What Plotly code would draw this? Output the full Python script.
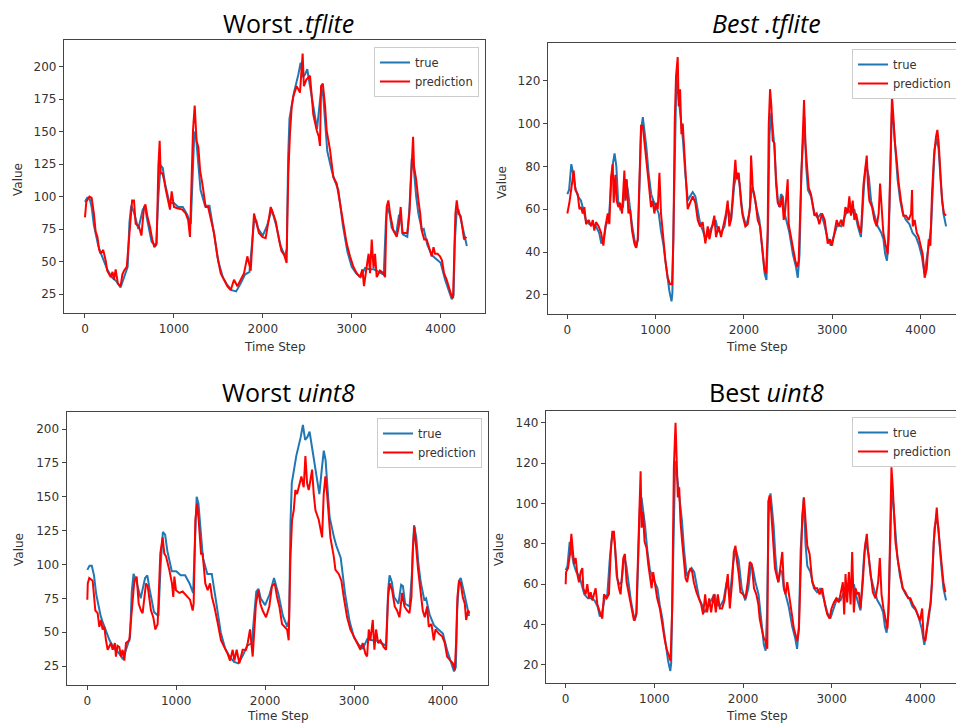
import plotly.graph_objects as go

# ---------------- data ----------------
# "Worst" model test set: true values (time step, value)
worst_true_t = [0, 25, 50, 75, 100, 125, 150, 175, 200, 250, 300, 350, 400, 450, 480, 500, 520, 550, 600, 650,
                675, 700, 750, 800, 825, 850, 875, 900, 950, 1000, 1050, 1100, 1150, 1190, 1210, 1230, 1250, 1275,
                1300, 1350, 1400, 1450, 1500, 1550, 1600, 1650, 1700, 1750, 1800, 1850, 1875, 1900, 1925, 1950,
                2000, 2050, 2100, 2150, 2200, 2250, 2270, 2285, 2300, 2350, 2400, 2425, 2450, 2475, 2500, 2525,
                2575, 2610, 2640, 2660, 2680, 2700, 2725, 2775, 2800, 2850, 2875, 2900, 2950, 3000, 3050, 3100,
                3150, 3200, 3250, 3300, 3360, 3385, 3400, 3425, 3450, 3500, 3530, 3550, 3575, 3625, 3650, 3675,
                3700, 3725, 3750, 3790, 3810, 3850, 3900, 3950, 4000, 4050, 4100, 4125, 4145, 4160, 4180, 4200,
                4225, 4250, 4275, 4295]
worst_true = [96, 99, 99, 92, 78, 70, 62, 57, 53, 44, 38, 35, 30, 40, 46, 80, 93, 88, 75, 90,
              92, 82, 65, 62, 100, 124, 122, 110, 95, 95, 92, 92, 86, 79, 120, 150, 145, 125,
              105, 93, 93, 72, 50, 38, 32, 28, 27, 33, 40, 42, 60, 80, 82, 75,
              70, 78, 90, 78, 62, 54, 60, 130, 160, 180, 194, 203, 192, 194, 198, 188,
              167, 152, 172, 184, 177, 160, 135, 120, 114, 105, 92, 78, 58, 46, 41, 38,
              45, 44, 44, 42, 40, 82, 92, 87, 76, 71, 85, 84, 71, 69, 92, 129,
              120, 100, 87, 74, 75, 63, 55, 52, 49, 36, 27, 21, 24, 66, 88, 90,
              83, 75, 66, 62]

# Worst .tflite prediction
tfl_worst_t = [0, 15, 50, 75, 100, 120, 140, 160, 176, 205, 232, 250, 289, 310, 326, 345, 370, 401, 420, 439,
               470, 495, 514, 530, 551, 570, 607, 635, 664, 680, 701, 730, 757, 780, 806, 825, 840, 851, 870,
               889, 910, 926, 956, 975, 1001, 1039, 1095, 1132, 1160, 1181, 1200, 1215, 1234, 1255, 1275, 1295,
               1320, 1357, 1385, 1414, 1451, 1489, 1526, 1564, 1601, 1639, 1676, 1714, 1751, 1789, 1826, 1864,
               1901, 1930, 1957, 1995, 2032, 2059, 2089, 2110, 2145, 2182, 2210, 2240, 2268, 2275, 2287, 2306,
               2325, 2343, 2381, 2418, 2448, 2462, 2490, 2531, 2568, 2606, 2630, 2643, 2655, 2675, 2700, 2718,
               2756, 2793, 2831, 2868, 2906, 2943, 2981, 3018, 3056, 3093, 3120, 3138, 3168, 3190, 3206, 3225,
               3245, 3262, 3281, 3318, 3356, 3375, 3393, 3412, 3431, 3468, 3506, 3530, 3551, 3570, 3600, 3625,
               3649, 3675, 3690, 3701, 3725, 3750, 3770, 3787, 3815, 3843, 3870, 3900, 3920, 3937, 3965, 3993,
               4015, 4038, 4068, 4098, 4125, 4140, 4151, 4166, 4181, 4200, 4226, 4250, 4263, 4290]
tfl_worst = [84, 96, 100, 99, 87, 73, 69, 59, 56, 59, 51, 43, 38, 42, 36, 44, 33, 31, 40, 43,
             46, 67, 90, 97, 97, 79, 77, 70, 92, 94, 85, 77, 67, 61, 64, 123, 143, 118, 118,
             113, 105, 100, 90, 104, 92, 91, 90, 87, 82, 69, 120, 151, 170, 143, 138, 120,
             110, 92, 92, 82, 72, 54, 41, 36, 31, 28, 36, 31, 36, 41, 54, 43,
             87, 79, 72, 69, 68, 79, 92, 88, 81, 67, 58, 55, 49, 80, 118, 149,
             169, 177, 185, 180, 210, 185, 190, 193, 163, 151, 146, 139, 185, 187, 170, 151,
             136, 115, 110, 95, 79, 64, 54, 46, 41, 38, 44, 31, 46, 56, 41, 67,
             45, 56, 38, 43, 41, 38, 92, 97, 87, 74, 69, 77, 92, 72, 72, 72,
             87, 126, 146, 123, 113, 97, 87, 74, 67, 67, 61, 54, 61, 56, 56, 54,
             51, 41, 36, 28, 23, 22, 54, 87, 97, 87, 85, 74, 67, 69]

# Worst uint8 prediction
u8_worst_t = [0, 5, 22, 60, 90, 116, 135, 154, 172, 191, 210, 229, 266, 285, 310, 322, 340, 360, 379, 397,
              416, 435, 472, 510, 529, 555, 578, 604, 622, 660, 679, 716, 742, 765, 791, 821, 847, 866, 885,
              922, 952, 967, 979, 997, 1035, 1072, 1110, 1155, 1185, 1196, 1215, 1234, 1252, 1279, 1297, 1327,
              1354, 1380, 1402, 1429, 1466, 1504, 1541, 1579, 1605, 1635, 1654, 1680, 1710, 1747, 1785, 1804,
              1830, 1860, 1897, 1924, 1946, 1972, 2010, 2047, 2077, 2108, 2134, 2160, 2190, 2220, 2247, 2265,
              2284, 2303, 2322, 2340, 2359, 2378, 2408, 2434, 2453, 2472, 2490, 2509, 2528, 2547, 2566, 2603,
              2641, 2659, 2678, 2697, 2716, 2734, 2772, 2791, 2828, 2858, 2884, 2922, 2959, 2997, 3034, 3072,
              3098, 3128, 3147, 3166, 3184, 3211, 3229, 3248, 3271, 3297, 3334, 3361, 3383, 3402, 3428, 3458,
              3484, 3511, 3541, 3567, 3597, 3623, 3646, 3661, 3679, 3698, 3721, 3747, 3773, 3796, 3822, 3841,
              3871, 3897, 3916, 3953, 3991, 4021, 4047, 4084, 4111, 4133, 4148, 4163, 4182, 4201, 4223, 4246,
              4261, 4283, 4298]
u8_worst = [74, 86, 90, 88, 66, 64, 54, 59, 52, 54, 44, 37, 42, 37, 42, 32, 40, 39, 32, 37,
            29, 42, 44, 76, 88, 91, 71, 66, 64, 86, 84, 66, 61, 52, 56, 108, 120, 108, 106,
            96, 86, 76, 91, 81, 79, 80, 77, 74, 66, 71, 133, 145, 133, 108, 108, 86,
            81, 86, 76, 69, 57, 44, 39, 34, 29, 37, 29, 37, 27, 37, 37, 42,
            52, 32, 71, 81, 71, 66, 61, 69, 84, 86, 76, 69, 56, 54, 52, 44,
            103, 133, 140, 155, 152, 157, 165, 157, 180, 160, 155, 162, 170, 152, 140, 133,
            120, 152, 165, 152, 133, 120, 106, 96, 93, 88, 76, 61, 52, 47, 42, 37,
            42, 34, 32, 52, 44, 59, 37, 52, 42, 44, 39, 37, 76, 86, 81, 69,
            66, 61, 79, 69, 66, 64, 76, 111, 128, 111, 96, 81, 66, 61, 69, 54,
            56, 44, 52, 49, 47, 42, 32, 29, 27, 22, 42, 76, 88, 86, 76, 71,
            59, 66, 64]

# "Best" model test set: true values
best_true_t = [0, 20, 45, 60, 90, 120, 155, 175, 210, 250, 290, 325, 360, 385, 410, 440, 470, 495, 515, 535,
               555, 575, 600, 630, 660, 685, 705, 735, 760, 780, 800, 815, 835, 855, 875, 895, 920, 950, 975,
               1005, 1035, 1060, 1090, 1110, 1135, 1155, 1180, 1190, 1200, 1220, 1235, 1250, 1270, 1290, 1310,
               1335, 1365, 1390, 1420, 1450, 1480, 1505, 1535, 1565, 1600, 1640, 1680, 1705, 1740, 1780, 1815,
               1855, 1890, 1920, 1950, 1985, 2025, 2060, 2090, 2110, 2140, 2175, 2195, 2215, 2235, 2255, 2270,
               2290, 2310, 2330, 2345, 2365, 2385, 2400, 2420, 2440, 2460, 2480, 2515, 2555, 2590, 2610, 2630,
               2650, 2670, 2685, 2705, 2725, 2760, 2800, 2835, 2875, 2910, 2950, 2985, 3025, 3060, 3100, 3140,
               3175, 3215, 3250, 3290, 3325, 3365, 3385, 3415, 3440, 3480, 3515, 3555, 3580, 3600, 3620, 3640,
               3655, 3675, 3695, 3715, 3740, 3770, 3800, 3835, 3875, 3910, 3950, 3985, 4015, 4045, 4070, 4100,
               4120, 4140, 4160, 4185, 4205, 4230, 4260, 4290]
best_true = [67, 69, 81, 78, 70, 66, 64, 61, 55, 53, 53, 52, 49, 44, 46, 53, 55, 71, 81, 86,
             80, 64, 60, 61, 74, 69, 61, 52, 46, 42, 46, 74, 97, 103, 97, 89, 77, 67, 64,
             61, 58, 50, 43, 36, 27, 22, 17, 21, 46, 92, 121, 116, 108, 100, 92,
             77, 64, 66, 68, 66, 58, 53, 50, 46, 49, 52, 55, 50, 49, 52, 61,
             55, 71, 77, 72, 58, 52, 58, 70, 68, 61, 55, 46, 36, 30, 27, 45,
             95, 105, 96, 89, 74, 64, 61, 67, 66, 58, 55, 49, 39, 33, 28, 39,
             77, 92, 103, 80, 69, 66, 58, 56, 58, 53, 46, 43, 49, 53, 52, 56,
             60, 58, 60, 52, 47, 74, 81, 75, 64, 57, 52, 49, 46, 39, 36, 46,
             77, 105, 100, 88, 74, 64, 58, 55, 53, 49, 47, 43, 38, 30, 36, 45,
             52, 74, 88, 93, 88, 72, 58, 52]

# Best .tflite prediction
tfl_best_t = [0, 23, 53, 72, 91, 118, 137, 155, 174, 193, 212, 242, 269, 288, 306, 325, 355, 382, 408, 431,
              458, 476, 495, 514, 525, 544, 559, 578, 597, 620, 646, 658, 673, 692, 710, 733, 759, 778, 797,
              816, 835, 854, 873, 892, 922, 948, 967, 986, 1005, 1024, 1043, 1061, 1088, 1111, 1137, 1163,
              1186, 1201, 1216, 1231, 1250, 1261, 1277, 1292, 1307, 1326, 1345, 1363, 1390, 1420, 1450, 1477,
              1503, 1533, 1563, 1590, 1609, 1639, 1665, 1684, 1714, 1741, 1767, 1797, 1816, 1835, 1854, 1881,
              1903, 1918, 1941, 1967, 1986, 2016, 2043, 2069, 2081, 2100, 2130, 2156, 2183, 2205, 2232, 2251,
              2269, 2281, 2296, 2311, 2326, 2345, 2364, 2383, 2409, 2432, 2451, 2469, 2496, 2507, 2534, 2560,
              2583, 2602, 2620, 2639, 2658, 2681, 2696, 2715, 2734, 2760, 2798, 2824, 2854, 2885, 2915, 2949,
              2975, 2998, 3024, 3051, 3073, 3100, 3126, 3149, 3175, 3194, 3213, 3232, 3251, 3270, 3300, 3326,
              3353, 3375, 3391, 3406, 3421, 3451, 3477, 3504, 3526, 3542, 3557, 3579, 3602, 3628, 3647, 3666,
              3677, 3693, 3708, 3730, 3753, 3779, 3806, 3836, 3866, 3893, 3904, 3912, 3934, 3957, 3979, 4002,
              4025, 4047, 4070, 4093, 4112, 4130, 4153, 4176, 4191, 4206, 4221, 4244, 4266, 4289]
tfl_best = [58, 63, 72, 78, 69, 67, 60, 61, 58, 61, 53, 55, 52, 55, 50, 54, 52, 49, 43, 52,
            58, 53, 75, 81, 63, 76, 64, 61, 63, 58, 78, 64, 74, 58, 60, 50, 44, 42, 46,
            80, 99, 99, 92, 86, 72, 61, 64, 58, 63, 60, 77, 58, 44, 36, 28, 25,
            25, 46, 100, 122, 131, 108, 116, 95, 100, 88, 74, 60, 63, 66, 63, 55,
            52, 54, 44, 52, 46, 52, 57, 47, 52, 47, 52, 58, 64, 52, 55, 71,
            83, 74, 77, 63, 57, 52, 53, 61, 85, 70, 64, 55, 52, 43, 32, 30,
            50, 99, 116, 108, 92, 91, 72, 63, 61, 66, 55, 60, 74, 53, 46, 41,
            36, 33, 36, 67, 85, 111, 91, 80, 70, 67, 57, 58, 53, 58, 55, 44,
            46, 43, 49, 55, 52, 55, 52, 61, 58, 66, 57, 64, 55, 58, 52, 49,
            71, 80, 85, 71, 64, 61, 55, 52, 58, 72, 61, 49, 44, 39, 61, 99,
            113, 103, 92, 83, 72, 64, 57, 57, 55, 58, 69, 52, 55, 49, 47, 43,
            39, 28, 32, 46, 43, 67, 85, 94, 97, 91, 80, 64, 58, 57]

# Best uint8 prediction
u8_best_t = [0, 4, 26, 49, 64, 79, 94, 113, 131, 150, 169, 188, 199, 225, 244, 263, 282, 300, 319, 338,
             357, 375, 394, 413, 432, 462, 488, 507, 526, 544, 563, 582, 601, 619, 650, 668, 687, 713, 740,
             770, 796, 815, 830, 845, 856, 871, 890, 912, 931, 950, 969, 987, 1006, 1032, 1062, 1089, 1115,
             1138, 1164, 1183, 1201, 1220, 1239, 1250, 1265, 1280, 1295, 1314, 1333, 1352, 1370, 1389, 1408,
             1427, 1445, 1475, 1502, 1528, 1550, 1573, 1595, 1618, 1640, 1670, 1693, 1716, 1738, 1764, 1791,
             1813, 1828, 1851, 1877, 1896, 1915, 1933, 1952, 1971, 2001, 2027, 2053, 2076, 2098, 2124, 2150,
             2173, 2188, 2210, 2236, 2255, 2274, 2285, 2300, 2315, 2330, 2345, 2360, 2375, 2398, 2420, 2443,
             2462, 2480, 2499, 2518, 2537, 2556, 2574, 2593, 2612, 2631, 2649, 2668, 2687, 2706, 2725, 2751,
             2781, 2811, 2837, 2863, 2893, 2923, 2950, 2976, 2998, 3025, 3051, 3081, 3111, 3126, 3141, 3156,
             3175, 3194, 3213, 3231, 3250, 3269, 3288, 3306, 3325, 3351, 3374, 3396, 3411, 3438, 3464, 3494,
             3524, 3543, 3562, 3584, 3607, 3629, 3644, 3659, 3674, 3689, 3704, 3719, 3749, 3776, 3802, 3832,
             3862, 3888, 3914, 3944, 3971, 3997, 4020, 4038, 4057, 4076, 4094, 4113, 4132, 4151, 4170, 4185,
             4200, 4215, 4237, 4260, 4282]
u8_best = [60, 66, 68, 75, 85, 75, 70, 73, 65, 61, 66, 68, 58, 55, 60, 53, 56, 52, 55, 58,
           50, 47, 45, 43, 55, 53, 55, 75, 86, 86, 75, 63, 58, 55, 73, 75, 61, 55, 48,
           42, 45, 78, 99, 116, 88, 96, 81, 78, 70, 63, 58, 66, 60, 53, 48, 40, 33,
           28, 25, 22, 48, 118, 140, 127, 103, 108, 91, 81, 70, 63, 61, 66, 68,
           66, 61, 56, 53, 50, 45, 55, 46, 53, 46, 55, 46, 55, 48, 48, 52,
           61, 65, 48, 61, 76, 79, 71, 65, 56, 55, 53, 61, 71, 70, 58, 55,
           50, 43, 38, 33, 32, 28, 101, 104, 98, 89, 78, 68, 65, 61, 68, 76,
           58, 55, 61, 55, 48, 43, 38, 35, 32, 38, 70, 94, 103, 88, 79, 75,
           61, 58, 58, 55, 58, 50, 45, 43, 48, 51, 53, 51, 58, 61, 45, 65,
           51, 66, 50, 76, 46, 58, 55, 56, 48, 61, 78, 85, 76, 65, 56, 53,
           61, 73, 55, 48, 42, 38, 51, 89, 118, 108, 94, 81, 71, 65, 58, 56,
           53, 53, 50, 48, 45, 42, 48, 33, 32, 40, 45, 50, 61, 81, 93, 98,
           88, 81, 70, 61, 56]

panel_titles = ["Worst <i>.tflite</i>", "<i>Best .tflite</i>", "Worst <i>uint8</i>", "Best <i>uint8</i>"]
x_ticks = [0, 1000, 2000, 3000, 4000]
y_ticks_worst = [25, 50, 75, 100, 125, 150, 175, 200]
y_ticks_best_tfl = [20, 40, 60, 80, 100, 120]
y_ticks_best_u8 = [20, 40, 60, 80, 100, 120, 140]

# ---------------- figure ----------------
W, H = 956, 724
BLUE = "#1f77b4"
RED = "#ff0000"
TXT = "#333333"
AX = "#444444"
FONT = "DejaVu Sans"


def px_x(p):
    return p / W


def px_y(p):
    return (H - p) / H


panels = [
    dict(tt=worst_true_t, tv=worst_true, pt=tfl_worst_t, pv=tfl_worst,
         xd=(64, 485), yd=(40, 313), xr=[-236, 4499], yr=[10.4, 220.5], yt=y_ticks_worst,
         leg=dict(x=px_x(479), y=px_y(47), xanchor="right"), right=False),
    dict(tt=best_true_t, tv=best_true, pt=tfl_best_t, pv=tfl_best,
         xd=(548, 956), yd=(42.7, 314), xr=[-219, 4402], yr=[11.1, 137.7], yt=y_ticks_best_tfl,
         leg=dict(x=px_x(852), y=px_y(49), xanchor="left"), right=True),
    dict(tt=worst_true_t, tv=worst_true, pt=u8_worst_t, pv=u8_worst,
         xd=(66.7, 488), yd=(411.7, 685), xr=[-232, 4507], yr=[11.0, 212.8], yt=y_ticks_worst,
         leg=dict(x=px_x(482), y=px_y(418), xanchor="right"), right=False),
    dict(tt=best_true_t, tv=best_true, pt=u8_best_t, pv=u8_best,
         xd=(546, 956), yd=(410.7, 683.3), xr=[-222, 4402], yr=[10.9, 146.0], yt=y_ticks_best_u8,
         leg=dict(x=px_x(852), y=px_y(417), xanchor="left"), right=True),
]

fig = go.Figure()
layout = dict(
    width=W, height=H,
    margin=dict(l=0, r=0, t=0, b=0, autoexpand=False),
    paper_bgcolor="white", plot_bgcolor="white",
    font=dict(family=FONT, size=12, color=TXT),
    annotations=[],
)

for i, p in enumerate(panels, start=1):
    sfx = "" if i == 1 else str(i)
    leg_name = "legend" if i == 1 else f"legend{i}"
    fig.add_trace(go.Scatter(x=p["tt"], y=p["tv"], mode="lines", name="true",
                             line=dict(color=BLUE, width=2),
                             xaxis="x" + sfx, yaxis="y" + sfx, legend=leg_name))
    fig.add_trace(go.Scatter(x=p["pt"], y=p["pv"], mode="lines", name="prediction",
                             line=dict(color=RED, width=2),
                             xaxis="x" + sfx, yaxis="y" + sfx, legend=leg_name))
    layout["xaxis" + sfx] = dict(
        domain=[px_x(p["xd"][0]), px_x(p["xd"][1])], range=p["xr"], anchor="y" + sfx,
        tickvals=x_ticks, ticks="outside", ticklen=4, tickcolor=AX, tickwidth=1,
        showline=True, linecolor=AX, linewidth=1.3, mirror=True,
        showgrid=False, zeroline=False, tickfont=dict(family=FONT, size=12, color=TXT),
    )
    layout["yaxis" + sfx] = dict(
        domain=[px_y(p["yd"][1]), px_y(p["yd"][0])], range=p["yr"], anchor="x" + sfx,
        tickvals=p["yt"], ticks="outside", ticklen=4, tickcolor=AX, tickwidth=1,
        showline=True, linecolor=AX, linewidth=1.3, mirror=not p["right"],
        showgrid=False, zeroline=False, tickfont=dict(family=FONT, size=12, color=TXT),
    )
    layout[leg_name] = dict(
        y=p["leg"]["y"], x=p["leg"]["x"], xanchor=p["leg"]["xanchor"], yanchor="top",
        bgcolor="white", bordercolor="#cccccc", borderwidth=1,
        font=dict(family=FONT, size=11.5, color=TXT), itemwidth=30, tracegroupgap=0,
    )

# titles
title_pos = [(288, 23), (766, 23), (288, 392), (766, 392)]
for txt, (cx, cy) in zip(panel_titles, title_pos):
    layout["annotations"].append(dict(
        text=txt, x=px_x(cx), y=px_y(cy), xref="paper", yref="paper",
        xanchor="center", yanchor="middle", showarrow=False,
        font=dict(family="Open Sans", size=25, color="black")))

# axis labels
xlab_pos = [(275, 347), (757, 347), (278, 716), (757, 716)]
ylab_pos = [(18, 180), (502, 182), (19, 550), (499, 550)]
for (cx, cy) in xlab_pos:
    layout["annotations"].append(dict(
        text="Time Step", x=px_x(cx), y=px_y(cy), xref="paper", yref="paper",
        xanchor="center", yanchor="middle", showarrow=False,
        font=dict(family=FONT, size=12, color=TXT)))
for (cx, cy) in ylab_pos:
    layout["annotations"].append(dict(
        text="Value", x=px_x(cx), y=px_y(cy), xref="paper", yref="paper",
        xanchor="center", yanchor="middle", showarrow=False, textangle=-90,
        font=dict(family=FONT, size=12, color=TXT)))

fig.update_layout(**layout)
fig.write_html("out.html",
               config={"displayModeBar": False},
               post_script="document.body.style.margin='0';document.body.style.overflow='hidden';")
